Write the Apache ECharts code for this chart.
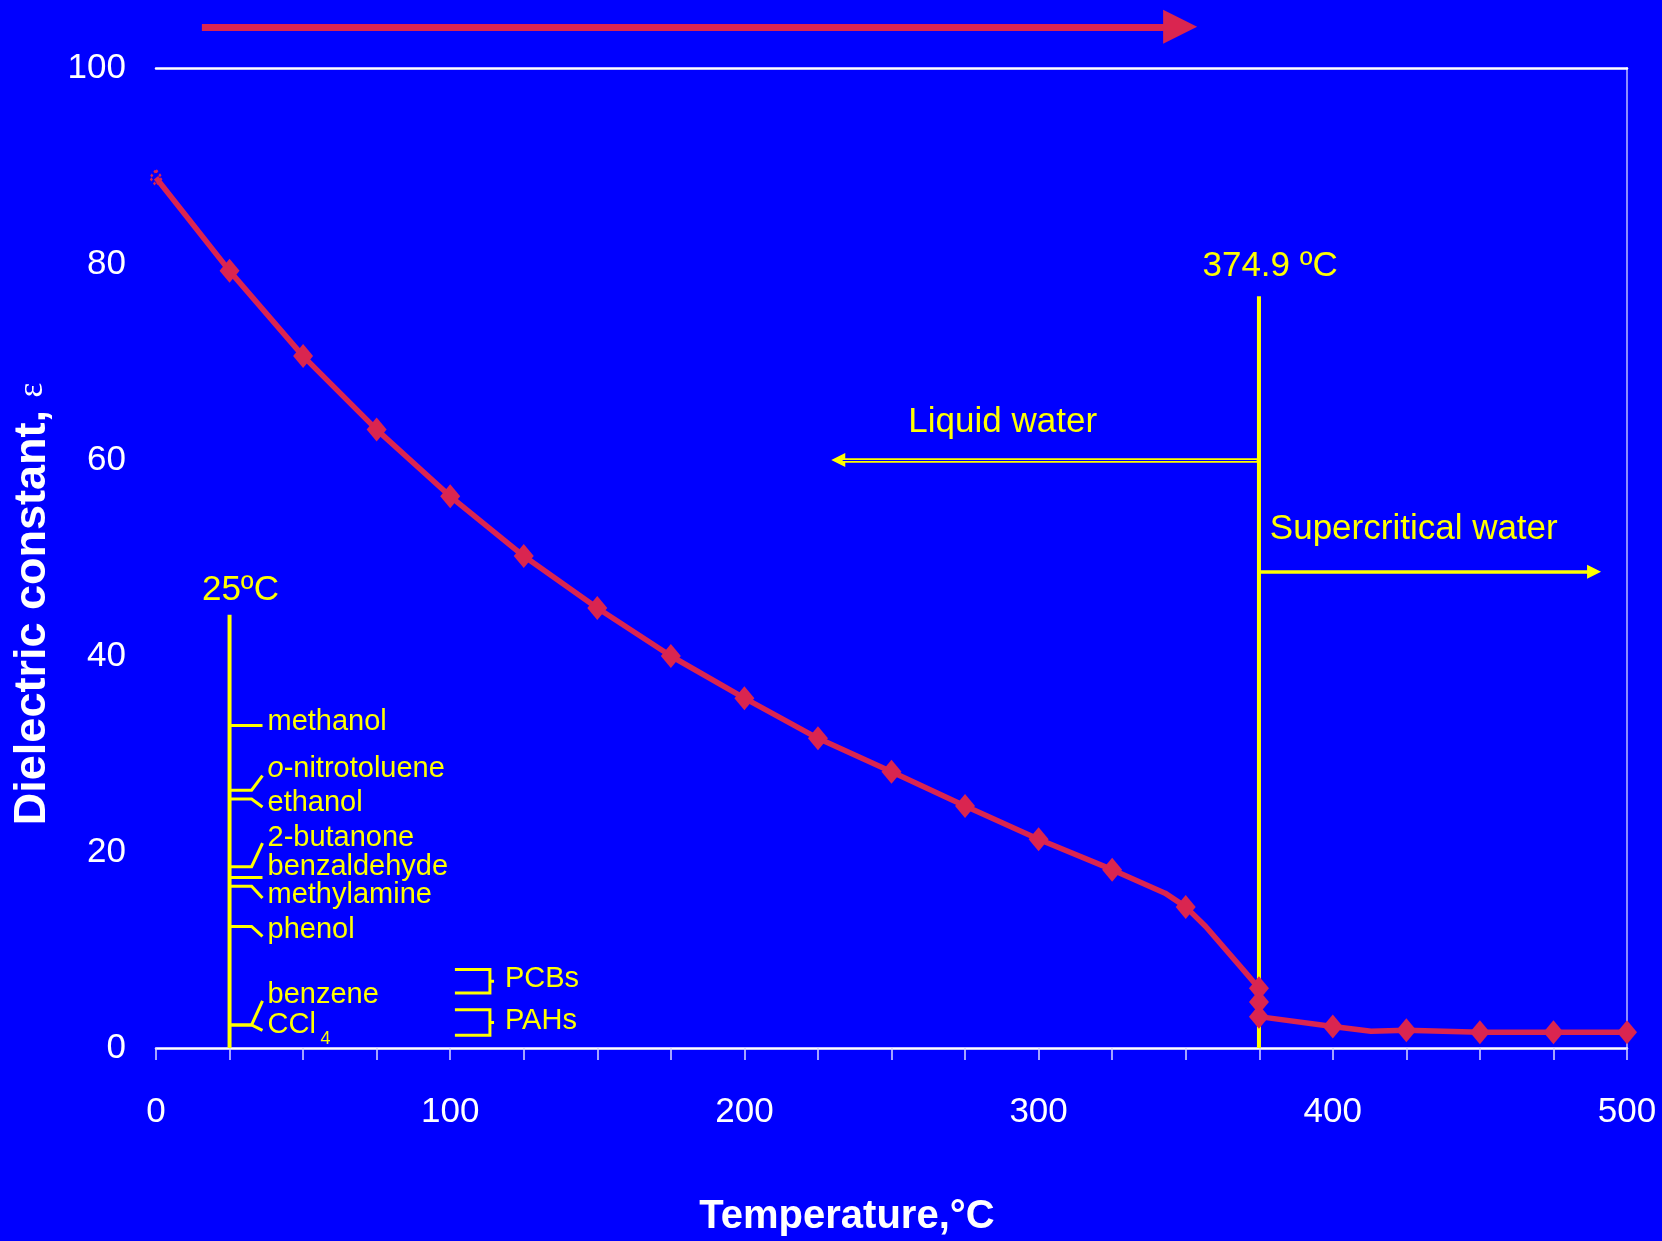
<!DOCTYPE html>
<html><head><meta charset="utf-8">
<script src="https://cdn.jsdelivr.net/npm/echarts@6/dist/echarts.min.js"></script>
<style>html,body{margin:0;padding:0;background:#0000FF;} #c{width:1662px;height:1241px;}</style>
</head><body><div id="c"></div>
<script>
// ---- data ----
const markerTemps = [0, 25, 50, 75, 100, 125, 150, 175, 200, 225, 250, 275, 300, 325, 350, 374.9, 374.9, 374.9, 400, 425, 450, 475, 500];
const markerEps   = [88.8, 79.3, 70.6, 63.1, 56.3, 50.2, 44.9, 40.0, 35.7, 31.6, 28.2, 24.7, 21.3, 18.2, 14.4, 6.1, 4.7, 3.2, 2.2, 1.8, 1.6, 1.6, 1.6];
const curveTemps  = [0, 25, 50, 75, 100, 125, 150, 175, 200, 225, 250, 275, 300, 325, 343, 350, 356.8, 369.5, 374.9, 374.9, 374.9, 400, 413, 425, 450, 475, 500];
const curveEps    = [88.8, 79.3, 70.6, 63.1, 56.3, 50.2, 44.9, 40.0, 35.7, 31.6, 28.2, 24.7, 21.3, 18.2, 15.8, 14.4, 12.4, 8.0, 6.1, 4.7, 3.2, 2.2, 1.7, 1.8, 1.6, 1.6, 1.6];
const xTickLabels = [0, 100, 200, 300, 400, 500];
const yTickLabels = [0, 20, 40, 60, 80, 100];
const criticalTemp = 374.9;
const criticalTop = 76.7;
const roomTemp = 25;
const roomTop = 44.2;
const solventNames   = ['methanol', 'o-nitrotoluene', 'ethanol', '2-butanone', 'benzaldehyde', 'methylamine', 'phenol', 'benzene', 'CCl'];
const solventLabelEps = [33.3, 28.5, 25.0, 21.4, 18.5, 15.6, 12.0, 5.4, 2.35];
const solventStemEps  = [32.9, 26.3, 25.4, 18.5, 17.4, 16.5, 12.4, 2.35, 2.35];
const solventEndEps   = [32.9, 27.8, 24.6, 20.9, 17.4, 15.3, 11.4, 4.8, 1.8];
const groupNames   = ['PCBs', 'PAHs'];
const groupTopEps  = [8.0, 3.9];
const groupBotEps  = [5.6, 1.3];
const liquidArrowEps = 60;
const liquidArrowEnd = 231.9;
const superArrowEps = 48.6;
const superArrowEnd = 488.8;
const topArrow = [[15.6, 104.2], [348.1, 104.2]];

// ---- styles ----
const YEL = '#FFFF00';
const RED = '#DA2550';
const BLUE = '#0000FF';
const FONT = '"Liberation Sans", Arial, sans-serif';

const stemX = 32.5, endX = 36.2, labelX = 37.9;
const solventLines = solventNames.map((n, i) => ({
  coords: [[roomTemp, solventStemEps[i]], [stemX, solventStemEps[i]], [endX, solventEndEps[i]]]
}));
const bracketLines = [];
groupNames.forEach((g, i) => {
  bracketLines.push({coords: [[101.6, groupTopEps[i]], [113.5, groupTopEps[i]], [113.5, groupBotEps[i]], [101.6, groupBotEps[i]]]});
  const mid = (groupTopEps[i] + groupBotEps[i]) / 2;
  bracketLines.push({coords: [[113.5, mid], [114.9, mid]]});
});

function textSeries(items, position, size, z) {
  return {
    type: 'scatter', symbolSize: 0, silent: true, z: z || 6,
    itemStyle: { opacity: 1 },
    data: items.map(it => ({value: [it[0], it[1]], name: it[2]})),
    label: {
      show: true, position: position, distance: 0,
      formatter: p => p.name === 'o-nitrotoluene' ? '{i|o}-nitrotoluene' : p.name,
      color: YEL, fontSize: size, fontFamily: FONT, opacity: 1,
      textBorderWidth: 0,
      rich: { i: { fontStyle: 'italic', color: YEL, fontSize: size, fontFamily: FONT } }
    }
  };
}

const chart = echarts.init(document.getElementById('c'));
chart.setOption({
  backgroundColor: BLUE,
  animation: false,
  grid: { left: 156, right: 35, top: 68, bottom: 193, containLabel: false, outerBoundsMode: 'none' },
  xAxis: [{
    type: 'value', min: 0, max: 500, interval: 25,
    axisLine: { show: true, lineStyle: { color: '#FFFFFF', width: 2.5 } },
    axisTick: { show: true, length: 12, lineStyle: { color: '#D8D8FF', width: 1.5 } },
    axisLabel: { color: '#FFFFFF', fontSize: 35, fontFamily: FONT, margin: 47,
      formatter: v => xTickLabels.indexOf(v) >= 0 ? String(v) : '' },
    splitLine: { show: false }
  }, {
    type: 'value', min: 0, max: 500, position: 'top',
    axisLine: { show: true, onZero: false, lineStyle: { color: '#FFFFFF', width: 2.5 } },
    axisTick: { show: false }, axisLabel: { show: false }, splitLine: { show: false }
  }],
  yAxis: [{
    type: 'value', min: 0, max: 100, interval: 20,
    axisLine: { show: false }, axisTick: { show: false },
    axisLabel: { color: '#FFFFFF', fontSize: 35, fontFamily: FONT, margin: 30,
      formatter: v => yTickLabels.indexOf(v) >= 0 ? String(v) : '' },
    splitLine: { show: false }
  }, {
    type: 'value', min: 0, max: 100, position: 'right',
    axisLine: { show: true, onZero: false, lineStyle: { color: '#8C8CFF', width: 2 } },
    axisTick: { show: false }, axisLabel: { show: false }, splitLine: { show: false }
  }],
  graphic: [
    { type: 'text', x: 847, y: 1217, z: 10,
      style: { text: 'Temperature,°C', fill: '#FFFFFF', fontSize: 40, fontWeight: 'bold', fontFamily: FONT,
        align: 'center', verticalAlign: 'middle' } },
    { type: 'text', x: 33, y: 604, rotation: Math.PI / 2, z: 10,
      style: { text: '{b|Dielectric constant, }{e|ε}', fill: '#FFFFFF', align: 'center', verticalAlign: 'middle',
        rich: {
          b: { fill: '#FFFFFF', fontSize: 45, fontWeight: 'bold', fontFamily: FONT },
          e: { fill: '#FFFFFF', fontSize: 35, fontFamily: '"Liberation Serif", "DejaVu Serif", serif' }
        } } }
  ],
  series: [
    // main curve
    { type: 'line', name: 'curve', data: curveTemps.map((t, i) => [t, curveEps[i]]),
      showSymbol: false, symbol: 'none', lineStyle: { color: RED, width: 5.5 }, z: 4, silent: true },
    // markers
    { type: 'scatter', name: 'points', z: 5, silent: true,
      symbol: 'diamond', symbolSize: [20, 24], itemStyle: { color: RED, opacity: 1 },
      data: markerTemps.map((t, i) => i === 0
        ? { value: [t, markerEps[i]], symbolSize: [12, 15],
            itemStyle: { color: 'rgba(0,0,0,0)', borderColor: RED, borderWidth: 2.5, borderType: 'dotted', opacity: 1 } }
        : { value: [t, markerEps[i]] }) },
    // vertical guide lines
    { type: 'lines', coordinateSystem: 'cartesian2d', polyline: true, z: 3, silent: true,
      lineStyle: { color: YEL, width: 4, opacity: 1 },
      data: [
        { coords: [[criticalTemp, 0], [criticalTemp, criticalTop]] },
        { coords: [[roomTemp, 0], [roomTemp, roomTop]] }
      ] },
    // solvent leader ticks
    { type: 'lines', coordinateSystem: 'cartesian2d', polyline: true, z: 3, silent: true,
      lineStyle: { color: YEL, width: 3, opacity: 1 }, data: solventLines },
    // brackets
    { type: 'lines', coordinateSystem: 'cartesian2d', polyline: true, z: 3, silent: true,
      lineStyle: { color: YEL, width: 3, opacity: 1 }, data: bracketLines },
    // liquid water arrow (double line)
    { type: 'lines', coordinateSystem: 'cartesian2d', z: 3, silent: true,
      symbol: ['none', 'triangle'], symbolSize: 14,
      lineStyle: { color: YEL, width: 4.5, opacity: 1, curveness: 0 },
      data: [{ coords: [[criticalTemp, liquidArrowEps], [liquidArrowEnd, liquidArrowEps]] }] },
    { type: 'lines', coordinateSystem: 'cartesian2d', z: 3.5, silent: true, symbol: 'none',
      lineStyle: { color: BLUE, width: 1.2, opacity: 1, curveness: 0 },
      data: [{ coords: [[criticalTemp - 0.8, liquidArrowEps], [liquidArrowEnd + 1.5, liquidArrowEps]] }] },
    // supercritical arrow
    { type: 'lines', coordinateSystem: 'cartesian2d', z: 3, silent: true,
      symbol: ['none', 'triangle'], symbolSize: 14,
      lineStyle: { color: YEL, width: 3.5, opacity: 1, curveness: 0 },
      data: [{ coords: [[criticalTemp, superArrowEps], [superArrowEnd, superArrowEps]] }] },
    // top red arrow
    { type: 'lines', coordinateSystem: 'cartesian2d', z: 3, silent: true, clip: false,
      symbol: ['none', 'triangle'], symbolSize: 34,
      lineStyle: { color: RED, width: 7, opacity: 1, curveness: 0 },
      data: [{ coords: topArrow }] },
    // texts
    textSeries([[378.7, 79.8, '374.9 ºC'], [28.7, 46.7, '25ºC'], [287.8, 63.8, 'Liquid water']], 'inside', 35),
    textSeries([[378.6, 52.9, 'Supercritical water']], 'right', 35),
    textSeries(solventNames.map((n, i) => [labelX, solventLabelEps[i], n]), 'right', 29),
    textSeries([[57.6, 0.9, '4']], 'inside', 18),
    textSeries(groupNames.map((g, i) => [118.6, (groupTopEps[i] + groupBotEps[i]) / 2 + 0.2, g]), 'right', 29)
  ]
});
</script></body></html>
